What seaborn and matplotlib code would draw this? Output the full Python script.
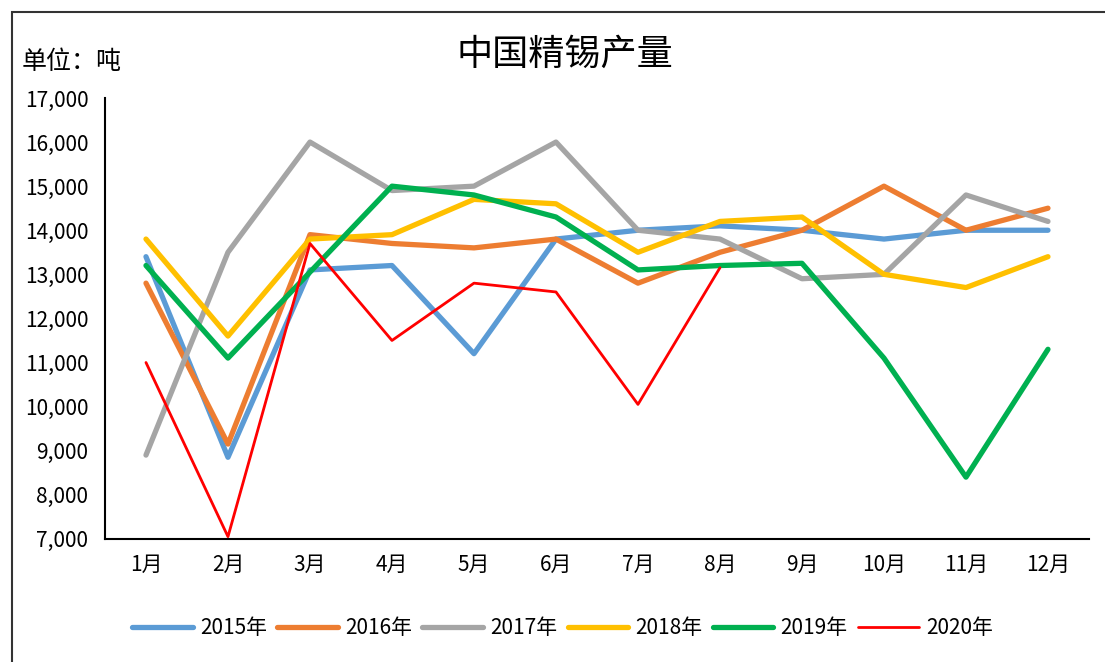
import numpy as np
import pandas as pd
import seaborn as sns
import matplotlib.pyplot as plt
from matplotlib.patches import Rectangle
from matplotlib.ticker import FuncFormatter

# --- data ---
months = ["1月", "2月", "3月", "4月", "5月", "6月", "7月", "8月", "9月", "10月", "11月", "12月"]
y2015 = [13400, 8850, 13100, 13200, 11200, 13800, 14000, 14100, 14000, 13800, 14000, 14000]
y2016 = [12800, 9150, 13900, 13700, 13600, 13800, 12800, 13500, 14000, 15000, 14000, 14500]
y2017 = [8900, 13500, 16000, 14900, 15000, 16000, 14000, 13800, 12900, 13000, 14800, 14200]
y2018 = [13800, 11600, 13800, 13900, 14700, 14600, 13500, 14200, 14300, 13000, 12700, 13400]
y2019 = [13200, 11100, 13050, 15000, 14800, 14300, 13100, 13200, 13250, 11100, 8400, 11300]
y2020 = [11000, 7050, 13700, 11500, 12800, 12600, 10050, 13150]

series = {"2015年": y2015, "2016年": y2016, "2017年": y2017,
          "2018年": y2018, "2019年": y2019, "2020年": y2020}
colors = {"2015年": "#5B9BD5", "2016年": "#ED7D31", "2017年": "#A5A5A5",
          "2018年": "#FFC000", "2019年": "#00B050", "2020年": "#FF0000"}
widths = {"2015年": 3.8, "2016年": 3.8, "2017年": 3.8,
          "2018年": 3.8, "2019年": 3.8, "2020年": 2.0}

sns.set_style("white")
plt.rcParams['font.family'] = ['Noto Sans CJK SC', 'DejaVu Sans']
plt.rcParams['text.color'] = "black"
plt.rcParams['xtick.color'] = "black"
plt.rcParams['ytick.color'] = "black"

fig = plt.figure(figsize=(11.05, 6.62), dpi=100)
ax = fig.add_axes([0.095, 0.186, 0.8905, 0.666])

for name, vals in series.items():
    df = pd.DataFrame({"month": months[:len(vals)], "value": vals})
    sns.lineplot(data=df, x="month", y="value", ax=ax, color=colors[name],
                 linewidth=widths[name], label=name, sort=False)

ax.set_xlim(-0.5, 11.5)
ax.set_ylim(7000, 17000)
ax.set_yticks(np.arange(7000, 17001, 1000))
ax.yaxis.set_major_formatter(FuncFormatter(lambda v, p: f"{int(v):,}"))
ax.set_xticks(range(12))
ax.set_xticklabels(months)
ax.set_xticks(np.arange(0.5, 12, 1), minor=True)
ax.tick_params(axis="x", which="major", length=0, pad=11, labelsize=15)
ax.tick_params(axis="x", which="minor", length=7, width=1.5, direction="out", color="black")
ax.tick_params(axis="y", which="major", length=7, width=1.5, direction="out",
               color="black", labelsize=15, pad=5)
ax.set_xlabel("")
ax.set_ylabel("")
for side in ["top", "right"]:
    ax.spines[side].set_visible(False)
for side in ["left", "bottom"]:
    ax.spines[side].set_color("black")
    ax.spines[side].set_linewidth(1.5)

fig.text(0.511, 0.917, "中国精锡产量", ha="center", va="center", fontsize=26)
fig.text(0.02, 0.906, "单位：吨", ha="left", va="center", fontsize=18)

handles, labels = ax.get_legend_handles_labels()
ax.legend(handles, labels, loc="center", bbox_to_anchor=(0.509, 0.051),
          bbox_transform=fig.transFigure, ncol=6, frameon=False, fontsize=15,
          handlelength=2.9, columnspacing=0.5, handletextpad=0.35)

fig.patches.append(Rectangle((12 / 1105, -0.05), 1.2, (662 - 12) / 662 + 0.05,
                             transform=fig.transFigure, fill=False,
                             edgecolor="#333333", linewidth=1.5))

fig.savefig("out.png", dpi=100)
